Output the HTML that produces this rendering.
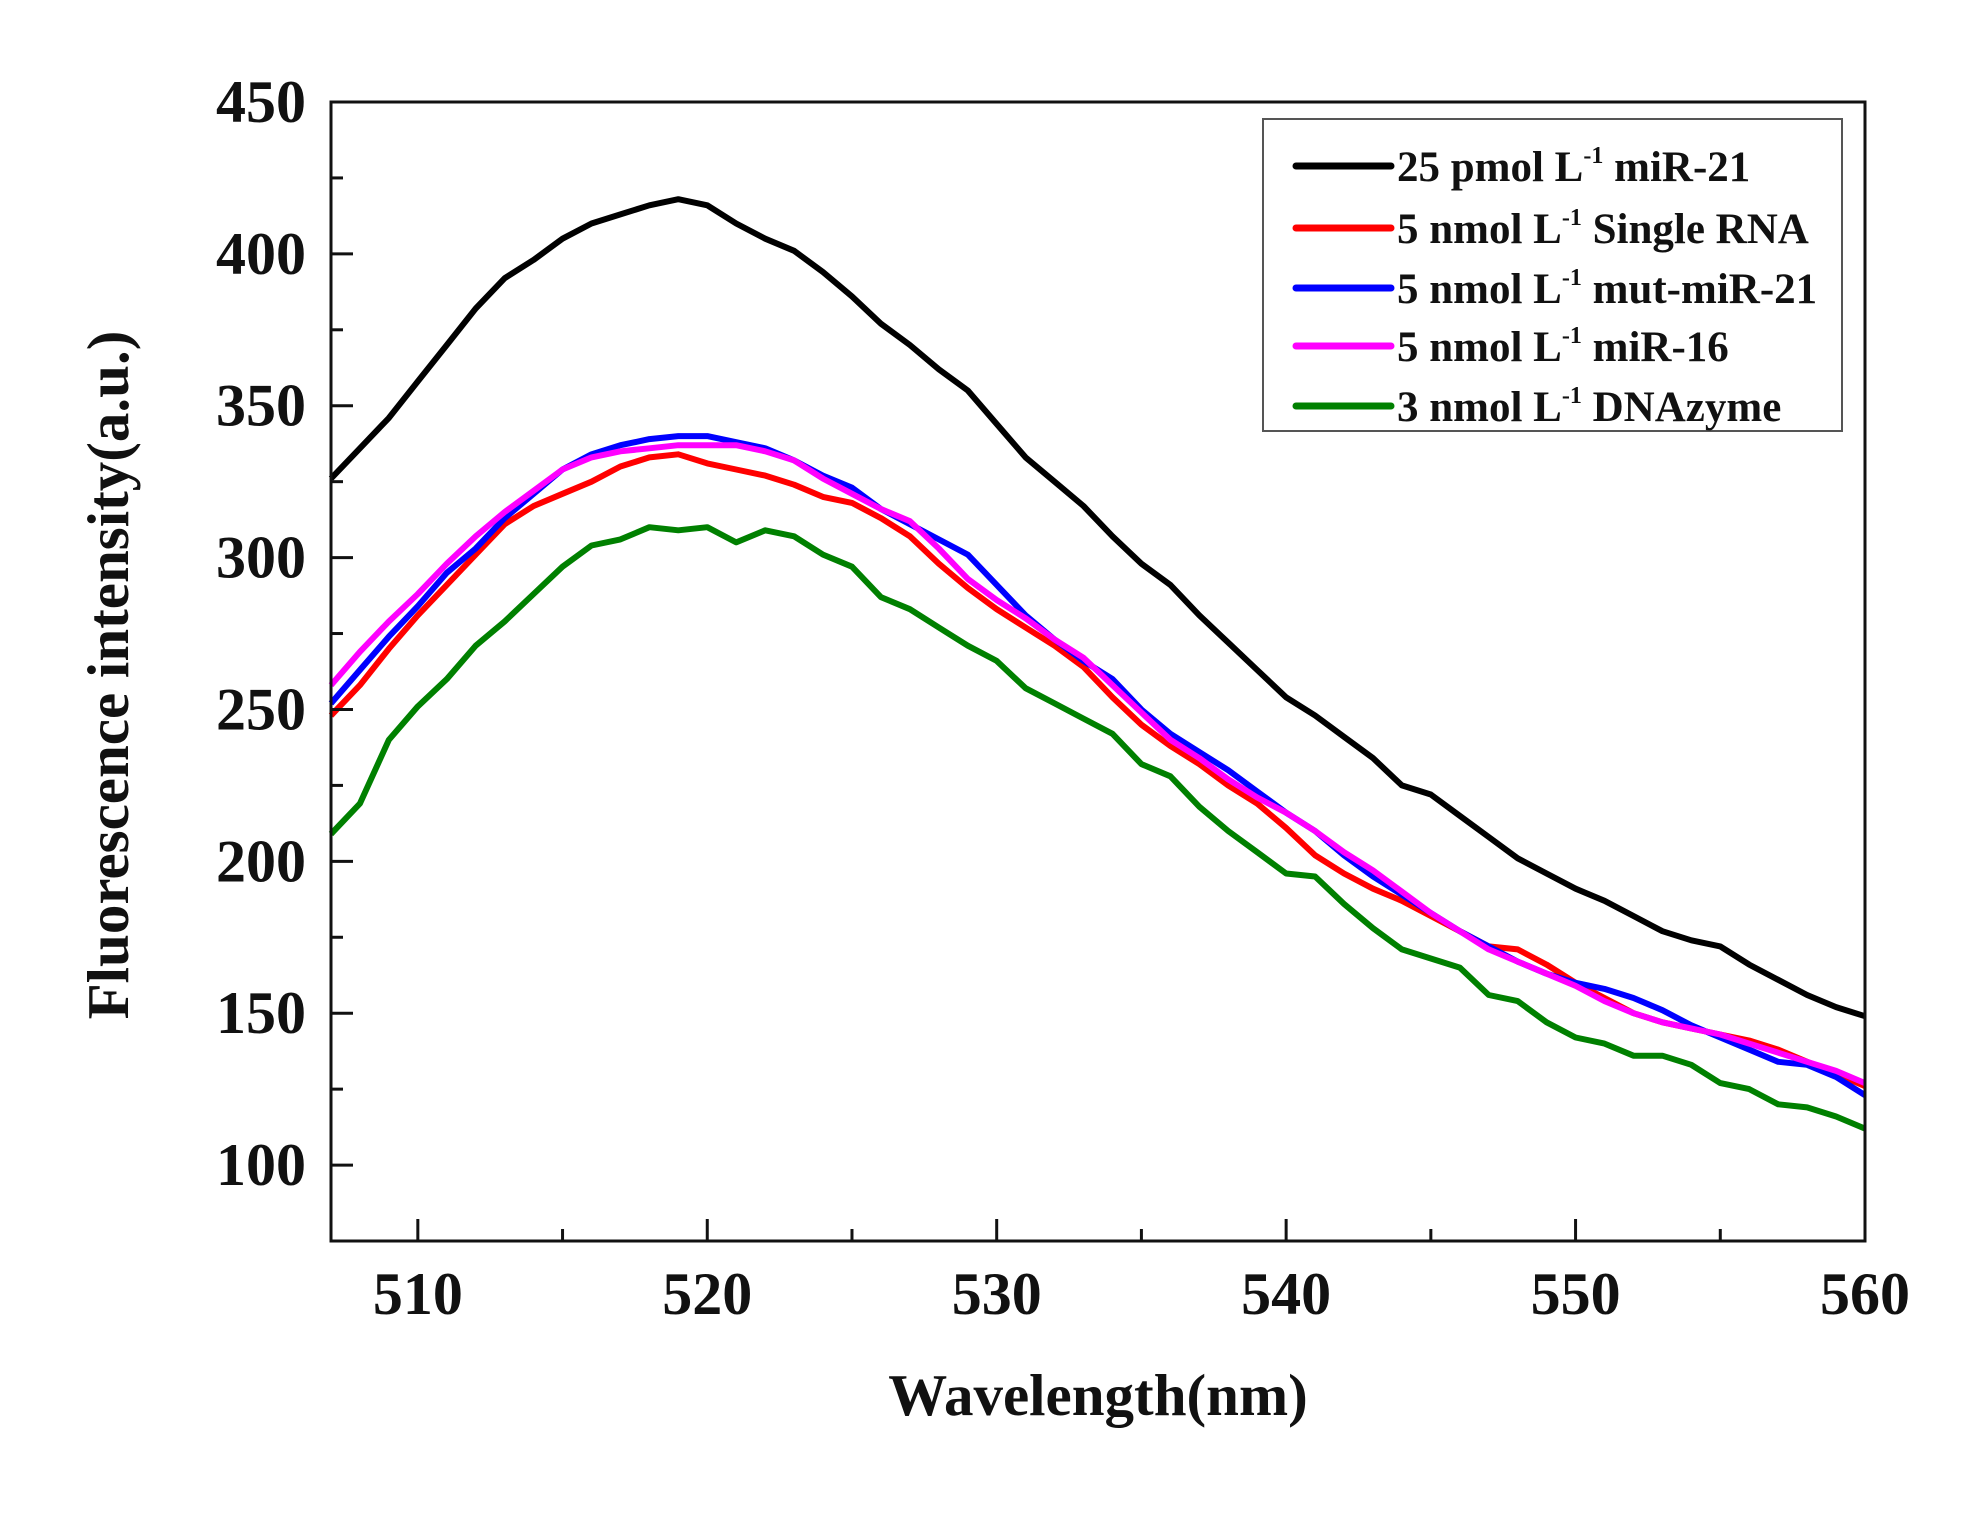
<!DOCTYPE html>
<html><head><meta charset="utf-8"><style>
html,body{margin:0;padding:0;background:#fff;}
svg text{font-family:"Liberation Serif",serif;font-weight:bold;fill:#111;}
</style></head><body>
<svg id="chart" width="1961" height="1508" viewBox="0 0 1961 1508" xmlns="http://www.w3.org/2000/svg">
<g id="plot"></g>
</svg>
<script>
const xs=[];for(let w=507;w<=560;w++)xs.push(w);
const seriesNames=["25 pmol L","5 nmol L","5 nmol L","5 nmol L","3 nmol L"];
const seriesSuffix=[" miR-21"," Single RNA"," mut-miR-21"," miR-16"," DNAzyme"];
const seriesColors=["#000000","#ff0000","#0000ff","#ff00ff","#008000"];
const blackVals=[326,336,346,358,370,382,392,398,405,410,413,416,418,416,410,405,401,394,386,377,370,362,355,344,333,325,317,307,298,291,281,272,263,254,248,241,234,225,222,215,208,201,196,191,187,182,177,174,172,166,161,156,152,149];
const redVals=[248,258,270,281,291,301,311,317,321,325,330,333,334,331,329,327,324,320,318,313,307,298,290,283,277,271,264,254,245,238,232,225,219,211,202,196,191,187,182,177,172,171,166,160,155,150,147,145,143,141,138,134,130,126];
const blueVals=[252,263,274,284,295,303,313,321,329,334,337,339,340,340,338,336,332,327,323,316,311,306,301,291,281,273,266,260,250,242,236,230,223,216,210,202,195,189,183,177,172,167,163,160,158,155,151,146,142,138,134,133,129,123];
const magentaVals=[258,269,279,288,298,307,315,322,329,333,335,336,337,337,337,335,332,326,321,316,312,303,293,286,280,273,267,258,249,240,234,227,221,216,210,203,197,190,183,177,171,167,163,159,154,150,147,145,143,140,137,134,131,127];
const greenVals=[209,219,240,251,260,271,279,288,297,304,306,310,309,310,305,309,307,301,297,287,283,277,271,266,257,252,247,242,232,228,218,210,203,196,195,186,178,171,168,165,156,154,147,142,140,136,136,133,127,125,120,119,116,112];
const xTicks=[510,520,530,540,550,560];
const xMinor=[515,525,535,545,555];
const yTicks=[100,150,200,250,300,350,400,450];
const yMinor=[125,175,225,275,325,375,425];

const L=331,R=1865,T=102,B=1241;
const X0=507,X1=560,Y0=75,Y1=450;
const sx=v=>L+(v-X0)/(X1-X0)*(R-L);
const sy=v=>B-(v-Y0)/(Y1-Y0)*(B-T);
const NS="http://www.w3.org/2000/svg";
const g=document.getElementById('plot');
function mk(tag,attrs,parent){const e=document.createElementNS(NS,tag);for(const k in attrs)e.setAttribute(k,attrs[k]);(parent||g).appendChild(e);return e;}

const all=[blackVals,redVals,blueVals,magentaVals,greenVals];
const order=[4,1,2,3,0];
order.forEach(i=>{
  const d=all[i].map((v,j)=>(j?'L':'M')+sx(xs[j]).toFixed(1)+' '+sy(v).toFixed(1)).join(' ');
  const p=mk('path',{d:d,fill:'none',stroke:seriesColors[i],'stroke-width':6,'stroke-linejoin':'round'});
  
  
});

const fr=mk('rect',{x:L,y:T,width:R-L,height:B-T,fill:'none',stroke:'#111','stroke-width':3});



xTicks.forEach(v=>{
  const t=mk('line',{x1:sx(v),x2:sx(v),y1:B,y2:B-22,stroke:'#111','stroke-width':3});
  
  
  const l=mk('text',{x:sx(v),y:1314,'text-anchor':'middle','font-size':60});
  l.textContent=v;
  
  
});
xMinor.forEach(v=>{
  const t=mk('line',{x1:sx(v),x2:sx(v),y1:B,y2:B-12,stroke:'#111','stroke-width':3});
  
  
});
yTicks.forEach(v=>{
  const t=mk('line',{x1:L,x2:L+22,y1:sy(v),y2:sy(v),stroke:'#111','stroke-width':3});
  
  
  const l=mk('text',{x:306,y:sy(v)+20,'text-anchor':'end','font-size':60});
  l.textContent=v;
  
  
});
yMinor.forEach(v=>{
  const t=mk('line',{x1:L,x2:L+12,y1:sy(v),y2:sy(v),stroke:'#111','stroke-width':3});
  
  
});

const xt=mk('text',{x:1098,y:1415,'text-anchor':'middle','font-size':59});
xt.textContent='Wavelength(nm)';


const yt=mk('text',{x:0,y:0,'text-anchor':'middle','font-size':59,transform:'translate(128,675) rotate(-90)'});
yt.textContent='Fluorescence intensity(a.u.)';



const lg=mk('rect',{x:1263,y:119,width:579,height:312,fill:'#fff',stroke:'#555','stroke-width':2});


const ly=[166,228,288,346,406];
for(let i=0;i<5;i++){
  const ln=mk('line',{x1:1296,x2:1391,y1:ly[i],y2:ly[i],stroke:seriesColors[i],'stroke-width':7,'stroke-linecap':'round'});
  
  
  const tx=mk('text',{x:1397,y:ly[i]+15,'font-size':43});
  
  
  const a=document.createElementNS(NS,'tspan');a.textContent=seriesNames[i];tx.appendChild(a);
  const b=document.createElementNS(NS,'tspan');b.setAttribute('dy','-18');b.setAttribute('font-size','24');b.textContent='-1';tx.appendChild(b);
  const c=document.createElementNS(NS,'tspan');c.setAttribute('dy','18');c.textContent=seriesSuffix[i];tx.appendChild(c);
}
</script>
</body></html>
